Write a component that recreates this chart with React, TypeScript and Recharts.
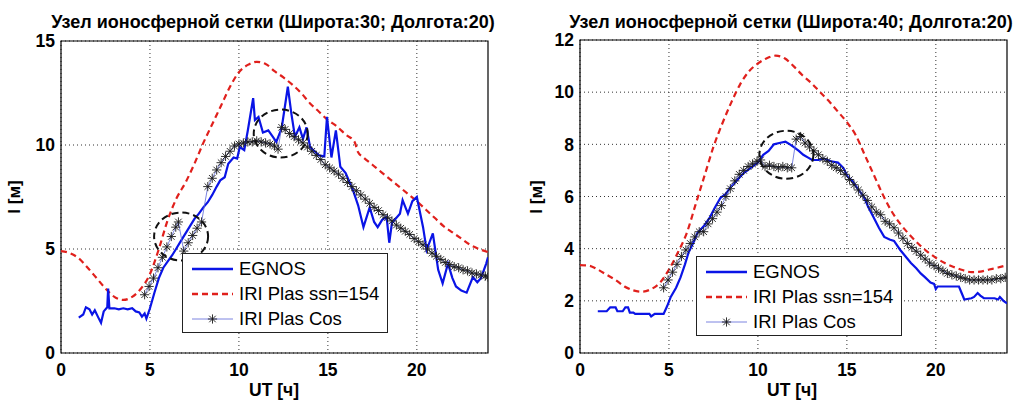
import React from "react";
import {
  LineChart,
  Line,
  XAxis,
  YAxis,
  CartesianGrid,
  ReferenceArea,
  ReferenceDot,
} from "recharts";

type Pt = [number, number];

// [UT hours, I metres]
const egnos30: Pt[] = [
  [1.0, 1.7], [1.25, 1.85], [1.4, 2.2], [1.6, 2.1], [1.75, 1.85], [1.9, 2.05], [2.1, 1.7], [2.25, 1.45],
  [2.4, 2.0], [2.6, 2.2], [2.65, 3.1], [2.72, 2.15], [3.0, 2.15], [3.25, 2.1], [3.5, 2.15], [3.75, 2.1],
  [4.0, 2.15], [4.2, 2.0], [4.4, 1.95], [4.55, 1.75], [4.7, 1.9], [4.8, 1.65], [5.0, 2.15], [5.25, 2.9],
  [5.5, 3.6], [5.75, 4.1], [6.0, 4.4], [6.25, 4.7], [6.5, 5.05], [6.75, 5.4], [7.0, 5.75], [7.25, 6.1],
  [7.5, 6.45], [7.75, 6.7], [8.0, 7.0], [8.25, 7.25], [8.5, 7.6], [8.75, 8.0], [8.95, 8.3], [9.2, 8.45],
  [9.4, 9.1], [9.7, 9.4], [9.9, 9.35], [10.05, 9.9], [10.3, 9.75], [10.5, 10.7], [10.8, 12.25], [10.9, 11.2],
  [11.1, 11.35], [11.35, 10.6], [11.65, 10.7], [11.9, 10.4], [12.1, 10.15], [12.4, 10.8], [12.75, 12.8],
  [12.95, 11.5], [13.15, 10.4], [13.4, 10.85], [13.6, 10.3], [13.8, 10.85], [14.0, 9.9], [14.25, 9.7],
  [14.5, 9.5], [14.8, 9.45], [14.95, 11.35], [15.2, 9.4], [15.45, 10.7], [15.7, 8.95], [16.0, 8.65],
  [16.4, 7.85], [16.7, 7.1], [17.0, 6.05], [17.35, 7.0], [17.6, 6.3], [17.8, 6.05], [18.05, 6.4],
  [18.3, 6.55], [18.45, 5.3], [18.6, 6.25], [19.05, 6.7], [19.2, 7.35], [19.5, 6.7], [19.75, 7.3],
  [20.0, 7.5], [20.35, 6.05], [20.55, 4.95], [20.9, 5.75], [21.2, 4.0], [21.45, 3.35], [21.75, 4.3],
  [22.0, 3.6], [22.2, 3.2], [22.5, 3.0], [22.8, 2.9], [23.15, 3.65], [23.4, 3.4], [23.6, 3.6],
  [23.9, 4.3], [24.0, 4.6],
];

const ssn30: Pt[] = [
  [0, 4.9], [0.5, 4.8], [1, 4.55], [1.5, 4.1], [2, 3.6], [2.5, 3.1], [3, 2.7], [3.5, 2.55], [4, 2.7],
  [4.5, 3.1], [5, 3.8], [5.5, 5.0], [6, 6.4], [6.5, 7.45], [7, 8.2], [7.5, 9.1], [8, 10.1], [8.5, 11.0],
  [9, 11.9], [9.5, 12.8], [10, 13.5], [10.5, 13.85], [11, 14.0], [11.5, 13.9], [12, 13.55], [12.5, 13.25],
  [13, 12.9], [13.5, 12.5], [14, 12.0], [14.5, 11.6], [15, 11.2], [15.5, 10.9], [16, 10.5], [16.5, 10.15],
  [16.7, 9.65], [17, 9.4], [17.5, 9.05], [18, 8.7], [18.5, 8.35], [19, 8.0], [19.5, 7.65], [20, 7.3],
  [20.5, 6.9], [21, 6.5], [21.5, 6.1], [22, 5.8], [22.5, 5.5], [23, 5.2], [23.5, 5.0], [24, 4.85],
];

const cos30: Pt[] = [
  [4.7, 2.8], [4.95, 3.2], [5.2, 3.6], [5.45, 4.1], [5.7, 4.6], [5.95, 5.1], [6.2, 5.6], [6.45, 6.05],
  [6.6, 6.3], [6.9, 4.9], [7.15, 5.3], [7.4, 5.65], [7.65, 6.0], [7.9, 6.3], [8.25, 8.0], [8.5, 8.4],
  [8.75, 8.8], [9.0, 9.15], [9.25, 9.45], [9.5, 9.7], [9.75, 9.95], [10.0, 10.05], [10.25, 10.1],
  [10.5, 10.15], [10.75, 10.15], [11.0, 10.2], [11.25, 10.15], [11.5, 10.1], [11.75, 10.05], [12.0, 9.95],
  [12.2, 9.8], [12.4, 10.85], [12.6, 10.75], [12.85, 10.55], [13.1, 10.4], [13.35, 10.25], [13.6, 10.1],
  [13.85, 9.9], [14.1, 9.7], [14.35, 9.5], [14.6, 9.3], [14.85, 9.05], [15.1, 8.9], [15.35, 8.75],
  [15.6, 8.6], [15.85, 8.4], [16.1, 8.2], [16.35, 8.0], [16.6, 7.8], [16.85, 7.6], [17.1, 7.4],
  [17.35, 7.2], [17.6, 7.0], [17.85, 6.85], [18.1, 6.65], [18.35, 6.5], [18.6, 6.35], [18.85, 6.15],
  [19.1, 6.0], [19.35, 5.85], [19.6, 5.7], [19.85, 5.5], [20.1, 5.35], [20.35, 5.2], [20.6, 5.0],
  [20.85, 4.8], [21.1, 4.65], [21.35, 4.5], [21.6, 4.35], [21.85, 4.25], [22.1, 4.15], [22.35, 4.1],
  [22.6, 4.0], [22.85, 3.95], [23.1, 3.85], [23.35, 3.8], [23.6, 3.75], [23.85, 3.7], [24.0, 3.65],
];

const egnos40: Pt[] = [
  [1.0, 1.6], [1.5, 1.6], [1.7, 1.75], [2.0, 1.75], [2.1, 1.6], [2.4, 1.6], [2.55, 1.75], [2.7, 1.75],
  [2.8, 1.55], [3.0, 1.55], [3.1, 1.5], [3.5, 1.5], [3.9, 1.5], [4.0, 1.4], [4.2, 1.5], [4.7, 1.5],
  [4.9, 1.8], [5.1, 2.15], [5.4, 2.5], [5.65, 2.9], [5.9, 3.4], [6.1, 3.85], [6.35, 4.2], [6.6, 4.6],
  [7.0, 4.9], [7.3, 5.2], [7.6, 5.6], [7.9, 5.95], [8.2, 6.1], [8.45, 6.35], [8.8, 6.6], [9.2, 6.9],
  [9.6, 7.1], [10.0, 7.3], [10.3, 7.6], [10.6, 7.75], [10.9, 8.0], [11.2, 8.05], [11.55, 8.1],
  [11.8, 8.0], [12.0, 7.9], [12.3, 7.75], [12.55, 7.6], [12.8, 7.5], [13.05, 7.4], [13.4, 7.4],
  [13.7, 7.45], [14.1, 7.35], [14.5, 7.3], [14.8, 7.1], [15.05, 6.75], [15.3, 6.6], [15.6, 6.3],
  [15.95, 6.0], [16.2, 5.6], [16.5, 5.2], [16.8, 4.8], [17.1, 4.45], [17.4, 4.35], [17.65, 4.3],
  [18.0, 3.95], [18.3, 3.7], [18.6, 3.45], [18.9, 3.25], [19.15, 3.05], [19.4, 2.9], [19.7, 2.7],
  [19.9, 2.65], [20.0, 2.45], [20.1, 2.55], [21.3, 2.55], [21.45, 2.3], [21.6, 2.05], [22.0, 2.1],
  [22.15, 2.15], [22.35, 2.3], [22.5, 2.2], [22.7, 2.1], [23.3, 2.1], [23.5, 2.05], [23.6, 2.15],
  [23.8, 2.0], [24.0, 1.9],
];

const ssn40: Pt[] = [
  [0, 3.37], [0.5, 3.35], [1, 3.2], [1.5, 3.0], [2, 2.8], [2.5, 2.55], [3, 2.4], [3.5, 2.35], [4, 2.45],
  [4.5, 2.7], [5, 3.2], [5.5, 3.85], [6, 4.6], [6.5, 5.7], [7, 6.8], [7.5, 7.9], [8, 8.8], [8.5, 9.6],
  [9, 10.3], [9.5, 10.8], [10, 11.1], [10.5, 11.3], [11, 11.4], [11.5, 11.3], [12, 11.0], [12.5, 10.65],
  [13, 10.35], [13.5, 10.0], [14, 9.65], [14.5, 9.25], [15, 8.85], [15.5, 8.35], [16, 7.6], [16.5, 6.85],
  [17, 6.1], [17.5, 5.45], [18, 4.95], [18.5, 4.55], [19, 4.2], [19.5, 3.9], [20, 3.65], [20.5, 3.45],
  [21, 3.3], [21.5, 3.18], [22, 3.1], [22.5, 3.12], [23, 3.2], [23.5, 3.28], [24, 3.37],
];

const cos40: Pt[] = [
  [4.7, 2.5], [4.95, 2.8], [5.2, 3.1], [5.45, 3.4], [5.7, 3.7], [5.95, 3.95], [6.2, 4.2], [6.45, 4.45],
  [6.7, 4.65], [6.95, 4.65], [7.2, 4.95], [7.45, 5.15], [7.7, 5.4], [7.95, 5.65], [8.2, 6.0], [8.45, 6.3],
  [8.7, 6.6], [8.95, 6.85], [9.2, 7.0], [9.45, 7.15], [9.7, 7.25], [9.95, 7.35], [10.15, 7.4],
  [10.4, 7.15], [10.65, 7.2], [10.9, 7.15], [11.15, 7.1], [11.4, 7.15], [11.65, 7.1], [11.9, 7.1],
  [12.15, 8.2], [12.4, 8.3], [12.65, 8.05], [12.9, 7.9], [13.15, 7.75], [13.4, 7.6], [13.65, 7.45],
  [13.9, 7.35], [14.15, 7.2], [14.4, 7.1], [14.65, 7.0], [14.9, 6.85], [15.15, 6.65], [15.4, 6.45],
  [15.65, 6.25], [15.9, 6.05], [16.15, 5.85], [16.4, 5.6], [16.65, 5.4], [16.9, 5.3], [17.15, 5.05],
  [17.4, 4.95], [17.65, 4.8], [17.9, 4.6], [18.15, 4.4], [18.4, 4.2], [18.65, 4.05], [18.9, 3.9],
  [19.15, 3.75], [19.4, 3.6], [19.65, 3.45], [19.9, 3.35], [20.15, 3.25], [20.4, 3.15], [20.65, 3.05],
  [20.9, 3.0], [21.15, 2.95], [21.4, 2.9], [21.65, 2.85], [21.9, 2.8], [22.15, 2.8], [22.4, 2.8],
  [22.65, 2.8], [22.9, 2.8], [23.15, 2.8], [23.4, 2.85], [23.65, 2.85], [23.9, 2.9],
];

const xTicks = [0, 5, 10, 15, 20];
const yTicks30 = [0, 5, 10, 15];
const yTicks40 = [0, 2, 4, 6, 8, 10, 12];

// dashed rings that mark spots on the curves
const rings30: Pt[] = [[6.75, 5.6], [12.35, 10.55]];
const rings40: Pt[] = [[11.6, 7.6]];

const legendLabels = ["EGNOS", "IRI Plas ssn=154", "IRI Plas Cos"];

const FONT = "Arial, 'Liberation Sans', sans-serif";
const BLUE = "#0a14e6";
const RED = "#e0201c";
const THIN = "#5a66d8";

const toRows = (pts: Pt[]) => pts.map(([x, y]) => ({ x, y }));

const StarDot = (props: any) => {
  const { cx, cy, index } = props;
  if (cx == null || cy == null) return <g key={`e${index}`} />;
  const r = 4.6;
  const d = r * 0.707;
  return (
    <path
      key={`s${index}`}
      d={`M${cx - r},${cy}H${cx + r}M${cx},${cy - r}V${cy + r}M${cx - d},${cy - d}L${cx + d},${cy + d}M${cx - d},${cy + d}L${cx + d},${cy - d}`}
      stroke="#1a1a1a"
      strokeWidth={0.9}
      fill="none"
    />
  );
};

const Ring = (props: any) => (
  <ellipse
    cx={props.cx}
    cy={props.cy}
    rx={27}
    ry={24}
    fill="none"
    stroke="#111"
    strokeWidth={2}
    strokeDasharray="7 4"
  />
);

function LegendBox({ left, top }: { left: number; top: number }) {
  const samples = [
    <line x1={0} y1={12} x2={41} y2={12} stroke={BLUE} strokeWidth={2.5} />,
    <line x1={0} y1={12} x2={41} y2={12} stroke={RED} strokeWidth={2.5} strokeDasharray="6 4" />,
    <g>
      <line x1={0} y1={12} x2={41} y2={12} stroke={THIN} strokeWidth={0.8} />
      <StarDot cx={20.5} cy={12} index={0} />
    </g>,
  ];
  return (
    <div
      style={{
        position: "absolute",
        left,
        top,
        width: 206,
        height: 80,
        boxSizing: "border-box",
        border: "1px solid #222",
        background: "#fff",
        fontFamily: FONT,
        fontSize: 18.5,
        color: "#000",
      }}
    >
      {legendLabels.map((label, i) => (
        <div key={label} style={{ position: "absolute", left: 9, top: 3 + i * 25, height: 24, display: "flex", alignItems: "center" }}>
          <svg width={41} height={24} style={{ display: "block" }}>
            {samples[i]}
          </svg>
          <span style={{ marginLeft: 6, lineHeight: "24px" }}>{label}</span>
        </div>
      ))}
    </div>
  );
}

interface PanelProps {
  left: number;
  width: number;
  title: string;
  titleX: number;
  egnos: Pt[];
  ssn: Pt[];
  cos: Pt[];
  yMax: number;
  yTicks: number[];
  rings: Pt[];
  margin: { top: number; right: number; bottom: number; left: number };
  legendPos: { left: number; top: number };
  yLabelX: number;
  xLabelX: number;
}

function Panel(p: PanelProps) {
  return (
    <div style={{ position: "absolute", left: p.left, top: 0, width: p.width, height: 401 }}>
      <div
        style={{
          position: "absolute",
          left: p.titleX,
          top: 22,
          transform: "translate(-50%, -50%)",
          whiteSpace: "nowrap",
          fontFamily: FONT,
          fontWeight: "bold",
          fontSize: 18,
        }}
      >
        {p.title}
      </div>
      <LineChart width={p.width} height={401} margin={p.margin}>
        <CartesianGrid
          stroke="#333"
          strokeDasharray="1 3"
          strokeWidth={1}
          horizontalValues={p.yTicks}
          verticalValues={xTicks}
        />
        <XAxis
          type="number"
          dataKey="x"
          domain={[0, 24]}
          ticks={xTicks}
          allowDataOverflow
          height={40}
          axisLine={false}
          tickLine={false}
          tickSize={0}
          tickMargin={11}
          tick={{ fill: "#000", fontSize: 17.5, fontWeight: "bold", fontFamily: FONT }}
        />
        <YAxis
          type="number"
          dataKey="y"
          domain={[0, p.yMax]}
          ticks={p.yTicks}
          allowDataOverflow
          width={45}
          axisLine={false}
          tickLine={false}
          tickSize={0}
          tickMargin={6}
          tick={{ fill: "#000", fontSize: 17.5, fontWeight: "bold", fontFamily: FONT }}
        />
        <ReferenceArea x1={0} x2={24} y1={0} y2={p.yMax} fill="none" stroke="#000" strokeWidth={1.2} />
        <Line
          data={toRows(p.ssn)}
          dataKey="y"
          type="monotone"
          stroke={RED}
          strokeWidth={2.2}
          strokeDasharray="6 4"
          dot={false}
          isAnimationActive={false}
        />
        <Line
          data={toRows(p.egnos)}
          dataKey="y"
          type="linear"
          stroke={BLUE}
          strokeWidth={2.2}
          dot={false}
          isAnimationActive={false}
        />
        <Line
          data={toRows(p.cos)}
          dataKey="y"
          type="linear"
          stroke={THIN}
          strokeWidth={0.8}
          dot={StarDot}
          isAnimationActive={false}
        />
        {p.rings.map(([x, y]) => (
          <ReferenceDot key={`${x}-${y}`} x={x} y={y} r={24} shape={Ring} />
        ))}
      </LineChart>
      <div
        style={{
          position: "absolute",
          left: p.yLabelX,
          top: 197,
          transform: "translate(-50%, -50%) rotate(-90deg)",
          whiteSpace: "nowrap",
          fontFamily: FONT,
          fontWeight: "bold",
          fontSize: 17,
        }}
      >
        I [м]
      </div>
      <div
        style={{
          position: "absolute",
          left: p.xLabelX,
          top: 390,
          transform: "translate(-50%, -50%)",
          whiteSpace: "nowrap",
          fontFamily: FONT,
          fontWeight: "bold",
          fontSize: 17.5,
        }}
      >
        UT [ч]
      </div>
      <LegendBox left={p.legendPos.left} top={p.legendPos.top} />
    </div>
  );
}

export default function App() {
  return (
    <div style={{ position: "relative", width: 1019, height: 401, background: "#fff", overflow: "hidden" }}>
      <style>{"body{margin:0;background:#fff}"}</style>
      <Panel
        left={0}
        width={510}
        title="Узел ионосферной сетки (Широта:30; Долгота:20)"
        titleX={273}
        egnos={egnos30}
        ssn={ssn30}
        cos={cos30}
        yMax={15}
        yTicks={yTicks30}
        rings={rings30}
        margin={{ top: 41, right: 22, bottom: 8, left: 16 }}
        legendPos={{ left: 182, top: 253 }}
        yLabelX={15}
        xLabelX={274}
      />
      <Panel
        left={510}
        width={509}
        title="Узел ионосферной сетки (Широта:40; Долгота:20)"
        titleX={281}
        egnos={egnos40}
        ssn={ssn40}
        cos={cos40}
        yMax={12}
        yTicks={yTicks40}
        rings={rings40}
        margin={{ top: 40, right: 12, bottom: 8, left: 25 }}
        legendPos={{ left: 186, top: 256 }}
        yLabelX={27}
        xLabelX={282}
      />
    </div>
  );
}
